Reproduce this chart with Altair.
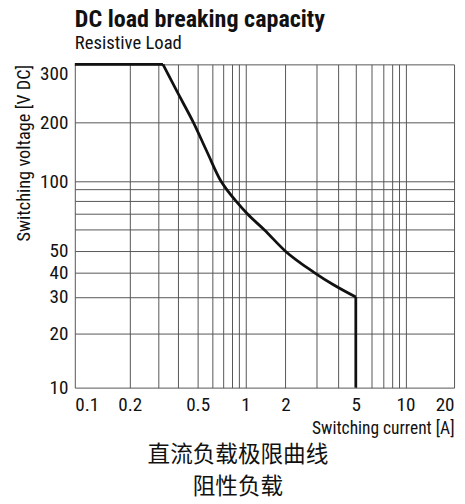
import altair as alt
import pandas as pd

# ---- data ----
segment = ["flat", "flat",
           "curve", "curve", "curve", "curve", "curve", "curve", "curve",
           "curve", "curve", "curve", "curve", "curve", "curve",
           "drop", "drop"]
current = [0.1, 0.32,
           0.32, 0.395, 0.477, 0.563, 0.677, 0.731, 0.857, 1.035, 1.384, 1.983, 2.9, 3.727, 5.0,
           5.0, 5.0]
voltage = [300, 300,
           300, 248, 200, 141, 100, 90, 80, 70, 60, 50, 40, 34.7, 30,
           30, 10]
order = list(range(len(current)))

x_grid = [0.1, 0.2, 0.3, 0.4, 0.5, 0.6, 0.7, 0.8, 0.9, 1, 2, 3, 4, 5, 6, 7, 8, 9, 10, 20]
x_labels = [0.1, 0.2, 0.5, 1, 2, 5, 10, 20]
y_grid = [10, 20, 30, 40, 50, 60, 70, 80, 90, 100, 200, 300]
y_labels = [10, 20, 30, 40, 50, 100, 200, 300]

# printed (non-uniform) graph-paper positions of the grid values
x_paper = [0, 56, 85.3, 105, 125, 140, 151.3, 160, 167, 173.8,
           214.3, 246, 268.3, 286, 301.6, 314, 323.3, 330.3, 336.6, 386]
y_paper = [329, 273.7, 236.8, 211.6, 189.6, 168.3, 152.3, 139.2, 126.7, 119, 59.3, 0]

title_text = "DC load breaking capacity"
subtitle_text = "Resistive Load"
x_title = "Switching current [A]"
y_title = "Switching voltage [V DC]"
cn_lines = ["直流负载极限曲线", "阻性负载"]

W, H = 386, 329
FONT = "'Roboto Condensed', 'Liberation Sans Narrow', sans-serif"
CJK = "'Noto Sans CJK SC', sans-serif"
GRID = "#555555"
INK = "#111111"

df = pd.DataFrame({"seg": segment, "I": current, "V": voltage, "o": order})

def in_list(vals):
    return "indexof([" + ",".join(str(v) for v in vals) + "], datum.value) >= 0 ? datum.label : ''"

x_enc = alt.X(
    "I:Q",
    scale=alt.Scale(type="log", domain=x_grid, range=x_paper, nice=False),
    axis=alt.Axis(
        values=x_grid, format="~g", labelExpr=in_list(x_labels),
        labelFlush=True, labelOverlap=False,
        labelFont=FONT, labelFontSize=19.5, labelColor=INK, labelPadding=8.5,
        ticks=False, domain=False, grid=True, gridColor=GRID, gridWidth=1, gridOpacity=1,
        title=x_title, titleAnchor="end", titleFont=FONT, titleFontSize=17.75,
        titleFontWeight="normal", titleColor=INK, titlePadding=5.5,
    ),
)
y_enc = alt.Y(
    "V:Q",
    scale=alt.Scale(type="log", domain=y_grid, range=y_paper, nice=False),
    axis=alt.Axis(
        values=y_grid, format="~g", labelExpr=in_list(y_labels), labelOverlap=False,
        labelBaseline={"condition": {"test": "datum.value >= 300", "value": "top"}, "value": "middle"},
        labelFont=FONT, labelFontSize=19.5, labelColor=INK, labelPadding=7,
        ticks=False, domain=False, grid=True, gridColor=GRID, gridWidth=1, gridOpacity=1,
        title=y_title, titleAnchor="end", titleFont=FONT, titleFontSize=18.7,
        titleFontWeight="normal", titleColor=INK, titlePadding=6,
    ),
)

curve = alt.Chart(df).mark_line(
    color=INK, strokeWidth=2.8, interpolate="monotone", strokeJoin="miter", clip=False
).encode(x=x_enc, y=y_enc, detail="seg:N", order="o:Q")

caption = alt.Chart(pd.DataFrame({"k": [0]})).mark_text(
    text=cn_lines, font=CJK, fontSize=23, color=INK, align="center",
    baseline="top", lineHeight=32,
).encode(x=alt.value(166), y=alt.value(387))

chart = alt.layer(curve, caption).properties(
    width=W, height=H,
    autosize=alt.AutoSizeParams(type="none"),
    padding={"left": 68, "top": 53, "right": 3, "bottom": 110},
    title=alt.TitleParams(
        text=title_text, subtitle=subtitle_text, anchor="start", frame="group",
        font=FONT, fontSize=24.5, fontWeight="bold", color=INK,
        subtitleFont=FONT, subtitleFontSize=19, subtitleColor=INK,
        offset=5, subtitlePadding=2.2,
    ),
).configure_view(stroke=None)

chart.save("out.html", embed_options={"renderer": "svg", "actions": False})
